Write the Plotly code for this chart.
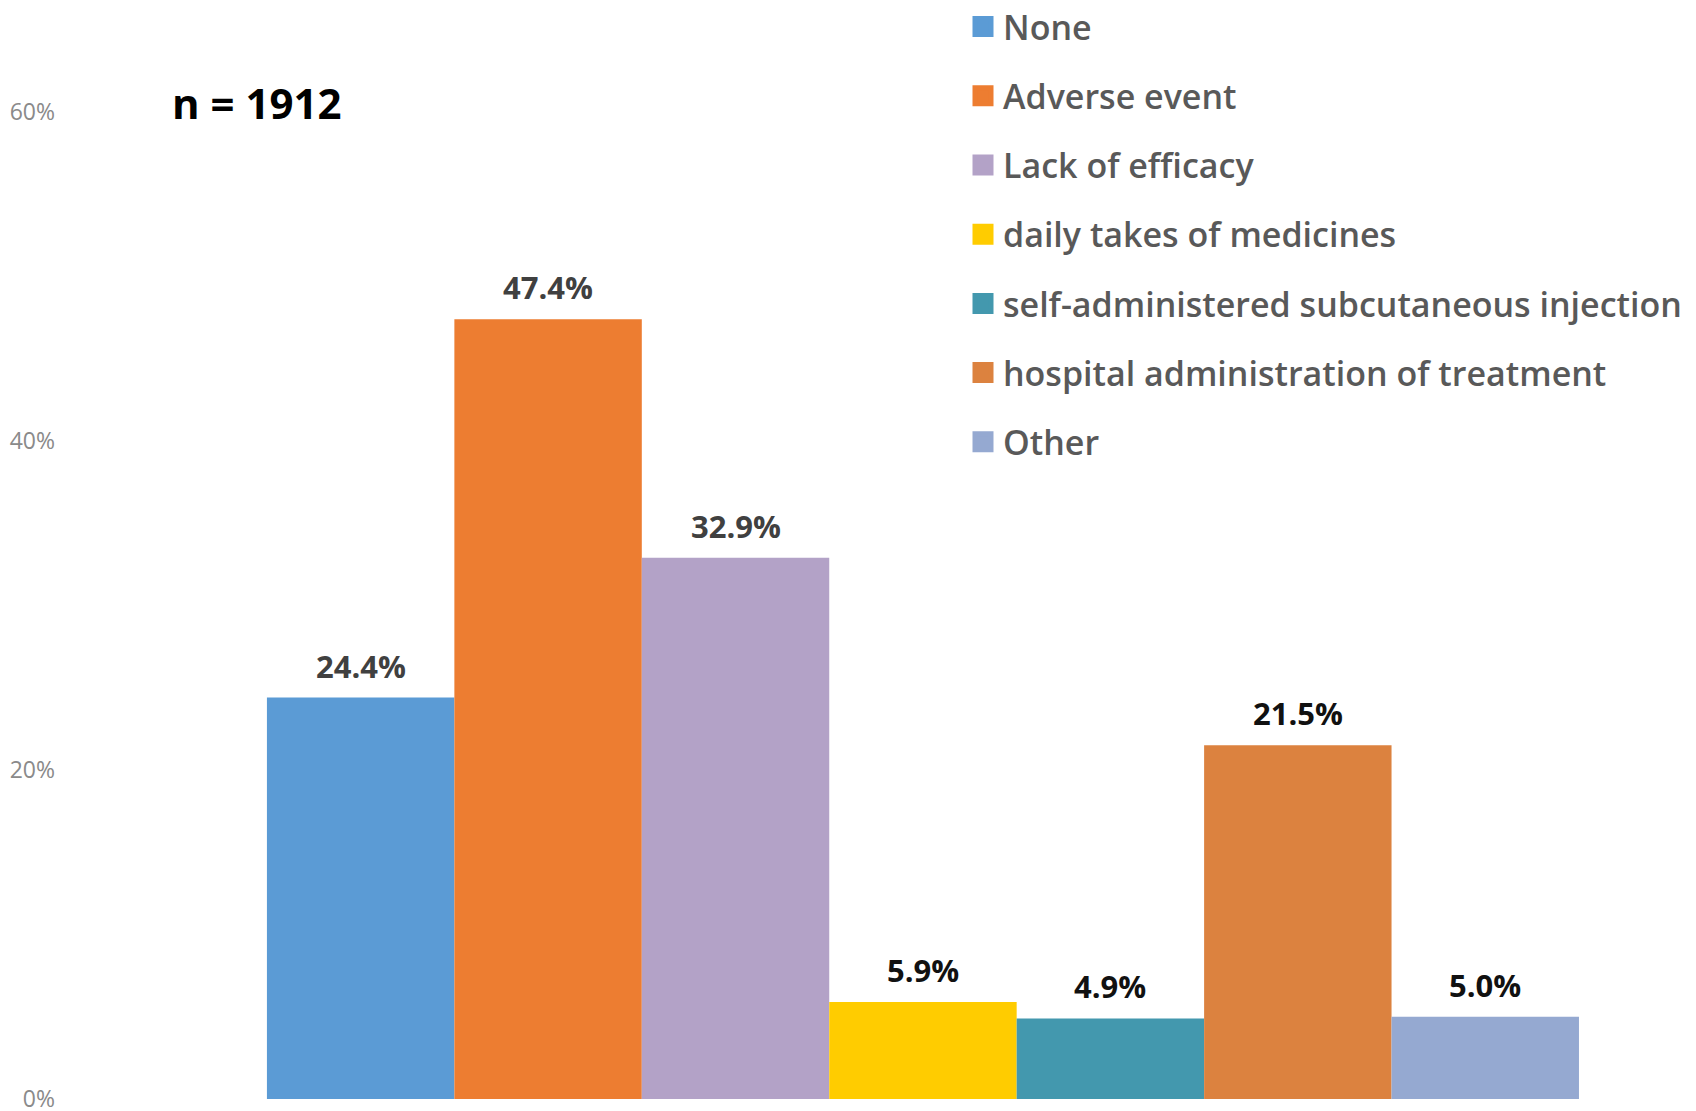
import plotly.graph_objects as go

categories = ["None", "Adverse event", "Lack of efficacy", "daily takes of medicines",
              "self-administered subcutaneous injection", "hospital administration of treatment", "Other"]
values = [24.4, 47.4, 32.9, 5.9, 4.9, 21.5, 5.0]
colors = ["#5B9BD5", "#ED7D31", "#B3A2C7", "#FFCC00", "#4398AE", "#DC823F", "#95A9D1"]
label_colors = ["#404040", "#404040", "#404040", "#111111", "#111111", "#111111", "#111111"]
tick_vals = [0, 20, 40, 60]
tick_text = ["0%", "20%", "40%", "60%"]
sample_note = "n = 1912"

FONT = "Open Sans"
W, H = 1696, 1111
L, R, T, B = 52, 0, 104, 20
pw, ph = W - L - R, H - T - B

n = len(categories)
positions = [i - (n - 1) / 2 for i in range(n)]

fig = go.Figure()
for i, (cat, val, col) in enumerate(zip(categories, values, colors)):
    fig.add_trace(go.Bar(
        x=[positions[i]], y=[val], width=[1.0], name=cat,
        marker=dict(color=col, line=dict(width=0)),
        legendgroup=f"g{i}", showlegend=False, hoverinfo="name+y",
    ))
    # legend entry (larger square swatch than the default bar icon)
    fig.add_trace(go.Scatter(
        x=[None], y=[None], mode="markers", name=cat, legendgroup=f"g{i}",
        marker=dict(symbol="square", size=16, color=col, line=dict(width=5, color=col)),
        showlegend=True, hoverinfo="skip",
    ))
    fig.add_annotation(
        x=positions[i], y=val, text=f"<b>{val:.1f}%</b>", showarrow=False,
        yanchor="bottom", yshift=9, xref="x", yref="y",
        font=dict(family=FONT, size=31, color=label_colors[i]),
    )

fig.add_annotation(
    x=(162 - L) / pw, y=1 - (95 - T) / ph, xref="paper", yref="paper",
    text=f"<b>{sample_note}</b>", showarrow=False, xanchor="left", yanchor="middle",
    font=dict(family=FONT, size=42, color="#000000"),
)

fig.update_layout(
    width=W, height=H,
    margin=dict(l=L, r=R, t=T, b=B, pad=0, autoexpand=False),
    paper_bgcolor="white", plot_bgcolor="white",
    barmode="overlay",
    showlegend=True,
    legend=dict(
        x=(955 - L) / pw, y=1 + (T + 10) / ph, xanchor="left", yanchor="top",
        font=dict(family=FONT, size=34, color="#595959", weight=600),
        tracegroupgap=22, bgcolor="rgba(0,0,0,0)", itemwidth=30,
    ),
    xaxis=dict(range=[-4.604, 4.167], showticklabels=False, showgrid=False,
               zeroline=False, showline=False, ticks=""),
    yaxis=dict(range=[0, 60], tickvals=tick_vals, ticktext=tick_text,
               showgrid=False, zeroline=False, showline=False, ticks="",
               ticklabelstandoff=4,
               tickfont=dict(family=FONT, size=23, color="#8a8a8a")),
    font=dict(family=FONT),
)

fig.write_html("out.html")
